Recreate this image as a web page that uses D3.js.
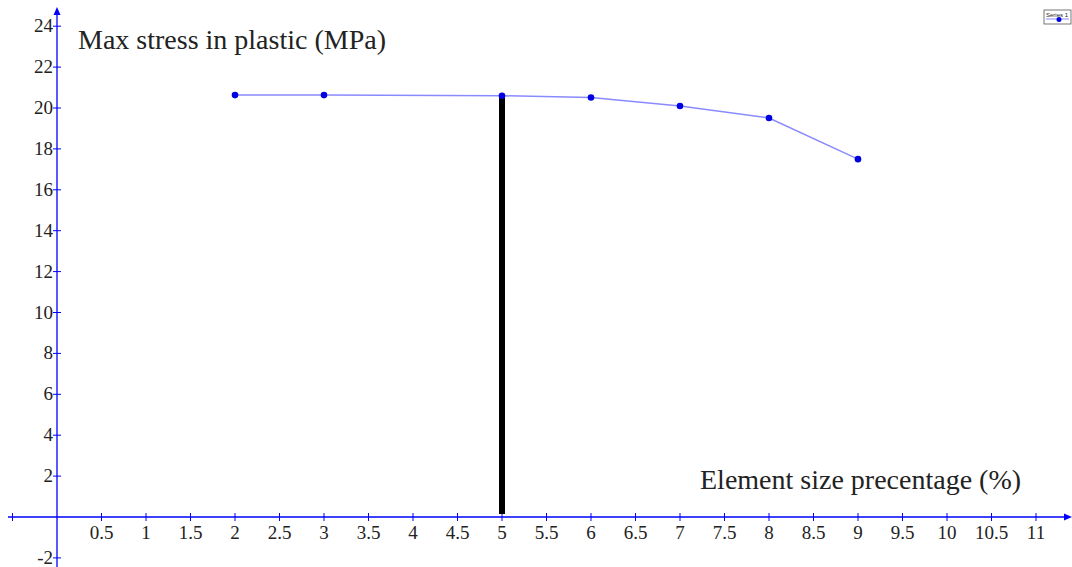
<!DOCTYPE html>
<html>
<head>
<meta charset="utf-8">
<script src="https://cdn.jsdelivr.net/npm/d3@7"></script>
<style>
  body { margin: 0; background: #fff; }
  svg { display: block; }
  text { font-family: "Liberation Serif", "Times New Roman", serif; fill: #222; }
</style>
</head>
<body>
<svg id="chart" width="1072" height="567"></svg>
<script>
// data
let sizePct = [2, 3, 5, 6, 7, 8, 9];
let maxStress = [20.63, 20.63, 20.6, 20.51, 20.1, 19.51, 17.5];
let markerX = 5;
let xTicks = [-0.5, 0.5, 1, 1.5, 2, 2.5, 3, 3.5, 4, 4.5, 5, 5.5, 6, 6.5, 7, 7.5, 8, 8.5, 9, 9.5, 10, 10.5, 11];
let yTicks = [-2, 2, 4, 6, 8, 10, 12, 14, 16, 18, 20, 22, 24];

const svg = d3.select('#chart');
const axisColor = '#0000ff';

// 0 -> 57px, 5 -> 502px
const x = d3.scaleLinear().domain([0, 5]).range([57, 502]);
// 0 -> 517px, 20 -> 108px
const y = d3.scaleLinear().domain([0, 20]).range([517, 108]);

// x axis line with arrow
svg.append('line')
	.attr('x1', 8).attr('x2', 1068)
	.attr('y1', y(0)).attr('y2', y(0))
	.attr('stroke', axisColor).attr('stroke-width', 1.3);
svg.append('path')
	.attr('d', `M1072,${y(0)} L1064,${y(0) - 3.5} L1064,${y(0) + 3.5} Z`)
	.attr('fill', axisColor);

// y axis line with arrow
svg.append('line')
	.attr('x1', x(0)).attr('x2', x(0))
	.attr('y1', 567).attr('y2', 12)
	.attr('stroke', axisColor).attr('stroke-width', 1.3);
svg.append('path')
	.attr('d', `M${x(0)},7 L${x(0) - 3.5},15 L${x(0) + 3.5},15 Z`)
	.attr('fill', axisColor);

// x ticks
svg.selectAll('.xtick').data(xTicks).enter().append('line')
	.attr('class', 'xtick')
	.attr('x1', d => x(d)).attr('x2', d => x(d))
	.attr('y1', y(0) - 4).attr('y2', y(0) + 4)
	.attr('stroke', axisColor).attr('stroke-width', 1);
svg.selectAll('.xlabel').data(xTicks.filter(d => d > 0)).enter().append('text')
	.attr('class', 'xlabel')
	.attr('x', d => x(d)).attr('y', 539)
	.attr('text-anchor', 'middle')
	.style('font-size', '19px')
	.text(d => d);

// y ticks
svg.selectAll('.ytick').data(yTicks).enter().append('line')
	.attr('class', 'ytick')
	.attr('x1', x(0) - 4).attr('x2', x(0) + 4)
	.attr('y1', d => y(d)).attr('y2', d => y(d))
	.attr('stroke', axisColor).attr('stroke-width', 1);
svg.selectAll('.ylabel').data(yTicks).enter().append('text')
	.attr('class', 'ylabel')
	.attr('x', x(0) - 4).attr('y', d => y(d) + 6)
	.attr('text-anchor', 'end')
	.style('font-size', '19px')
	.text(d => d);

// axis titles
svg.append('text')
	.attr('x', 78).attr('y', 49)
	.style('font-size', '28px')
	.text('Max stress in plastic (MPa)');
svg.append('text')
	.attr('x', 700).attr('y', 489)
	.style('font-size', '28px')
	.text('Element size precentage (%)');

// thick black marker at 5%
svg.append('line')
	.attr('x1', x(markerX)).attr('x2', x(markerX))
	.attr('y1', y(maxStress[sizePct.indexOf(markerX)])).attr('y2', y(0) - 3)
	.attr('stroke', '#000').attr('stroke-width', 6);

// series line + points
const pts = sizePct.map((d, i) => [d, maxStress[i]]);
svg.append('path')
	.datum(pts)
	.attr('d', d3.line().x(d => x(d[0])).y(d => y(d[1])))
	.attr('fill', 'none')
	.attr('stroke', '#8a8aff').attr('stroke-width', 1.5);
svg.selectAll('.pt').data(pts).enter().append('circle')
	.attr('class', 'pt')
	.attr('cx', d => x(d[0])).attr('cy', d => y(d[1]))
	.attr('r', 3.3)
	.attr('fill', '#0000e0');

// legend
const lg = svg.append('g').attr('transform', 'translate(1044,10)');
lg.append('rect').attr('width', 27).attr('height', 14)
	.attr('fill', '#fff').attr('stroke', '#555').attr('stroke-width', 0.8);
lg.append('text').attr('x', 2).attr('y', 7)
	.style('font-size', '6px').style('font-family', 'Liberation Sans, sans-serif')
	.text('Series 1');
lg.append('line').attr('x1', 2).attr('x2', 25).attr('y1', 9).attr('y2', 9)
	.attr('stroke', '#8a8aff').attr('stroke-width', 1);
lg.append('circle').attr('cx', 15).attr('cy', 9.5).attr('r', 2.5).attr('fill', '#0000e0');
</script>
</body>
</html>
